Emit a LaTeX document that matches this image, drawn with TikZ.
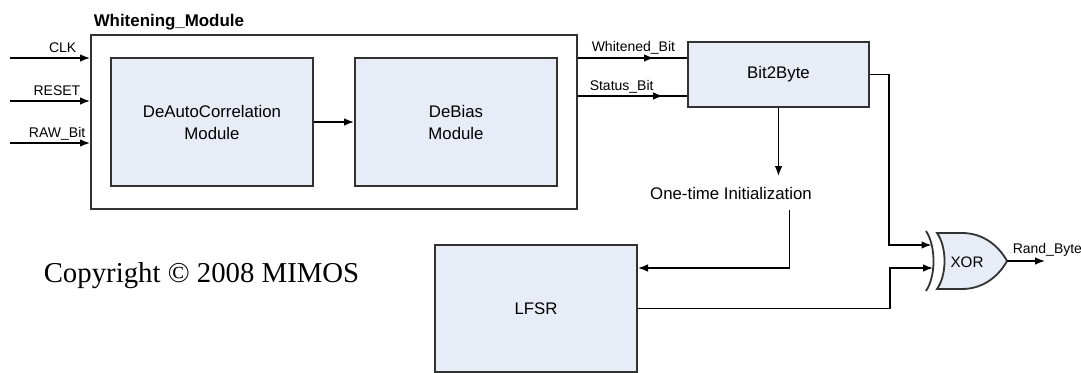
\documentclass[tikz,border=0pt]{standalone}
\usepackage{fontspec}
\setmainfont{Liberation Serif}
\setsansfont{Liberation Sans}
\usepackage{xcolor}
\usepackage{tikz}
\usetikzlibrary{positioning,arrows.meta,fit}

\definecolor{blockfill}{RGB}{232,236,247}
\definecolor{edge}{RGB}{50,50,50}

\begin{document}
\begin{tikzpicture}[
  x=0.5pt,y=-0.5pt,
  font=\sffamily\fontsize{8.4}{11}\selectfont,
  line width=0.75pt,
  >={Latex[length=5pt,width=3.8pt]},
  block/.style={draw=edge,line width=1pt,fill=blockfill,align=center,inner sep=0pt},
  sig/.style={font=\sffamily\fontsize{7}{8}\selectfont,inner sep=0pt}]
\useasboundingbox (0,0) rectangle (1081,373);
\node[block,minimum width=101pt,minimum height=64pt] (decor) at (212,122) {DeAutoCorrelation\\Module};
\node[block,minimum width=101pt,minimum height=64pt,right=20pt of decor] (debias) {DeBias\\Module};
\node[draw=edge,line width=1pt,fit=(decor)(debias),inner xsep=9.5pt,inner ysep=11pt] (whiten) {};
\node[font=\sffamily\bfseries\fontsize{8.45}{10}\selectfont,anchor=base west,inner sep=0pt] (wtitle) at (93,27) {Whitening\_Module};
\node[block,minimum width=90.5pt,minimum height=32.5pt] (b2b) at (778.5,74.5) {Bit2Byte};
\node[inner ysep=5pt,inner xsep=0pt] (init) at (731,193) {One-time Initialization};
\node[block,minimum width=101pt,minimum height=63.5pt] (lfsr) at (536,308.5) {LFSR};
\node[font=\rmfamily\fontsize{14.4}{16}\selectfont,anchor=base west,inner sep=0pt] (copy) at (43,283) {Copyright © 2008 MIMOS};
% xor gate
\draw[draw=edge,line width=0.9pt,fill=blockfill] (937,233) -- (962,233) .. controls (985,233) and (1000,248) .. (1007,261)
  .. controls (1000,274) and (985,289) .. (962,289) -- (937,289) .. controls (947,275) and (947,247) .. (937,233) -- cycle;
\draw[draw=edge,line width=0.9pt] (926,231) .. controls (936,246) and (936,276) .. (926,291);
\node[inner sep=0pt,font=\sffamily\fontsize{7.6}{9}\selectfont] (xor) at (967,262) {XOR};
\coordinate (xin1) at (931.5,245);
\coordinate (xin2) at (933,268);
\coordinate (xout) at (1007,261);
% inputs
\coordinate (clk) at (10,58);
\coordinate (rst) at (10,101);
\coordinate (raw) at (10,143);
\coordinate (stat) at (600,96);
\draw[->] (clk) -- (clk -| whiten.west) node[sig,pos=1,anchor=base east,xshift=-6.5pt,yshift=2.5pt] {CLK};
\draw[->] (rst) -- (rst -| whiten.west) node[sig,pos=1,anchor=base east,xshift=-4.5pt,yshift=2.5pt] {RESET};
\draw[->] (raw) -- (raw -| whiten.west) node[sig,pos=1,anchor=base east,xshift=-2pt,yshift=2.5pt] {RAW\_Bit};
\draw[->] (decor) -- (debias);
% outputs of the whitening stage, arrow half way
\draw (whiten.east |- clk) -- (b2b.west |- clk) node[sig,pos=0,anchor=base west,xshift=6.5pt,yshift=3pt] {Whitened\_Bit};
\draw[->] (whiten.east |- clk) -- ++(76,0);
\draw (whiten.east |- stat) -- (b2b.west |- stat) node[sig,pos=0,anchor=base west,xshift=5.5pt,yshift=2.5pt] {Status\_Bit};
\draw[->] (whiten.east |- stat) -- ++(85,0);
\draw[->] (b2b.south) -- (b2b.south |- init.north);
\draw[->] ([xshift=-11.5pt]init.south east) |- ([yshift=20.25pt]lfsr.east);
\draw[->] (b2b.east) -- ++(19,0) |- (xin1);
\draw[->] (lfsr.east) -- ++(252,0) |- (xin2);
\draw[->] (xout) -- ++(38,0) node[sig,pos=0,anchor=base west,xshift=2.5pt,yshift=3.5pt] {Rand\_Byte};
\end{tikzpicture}
\end{document}
